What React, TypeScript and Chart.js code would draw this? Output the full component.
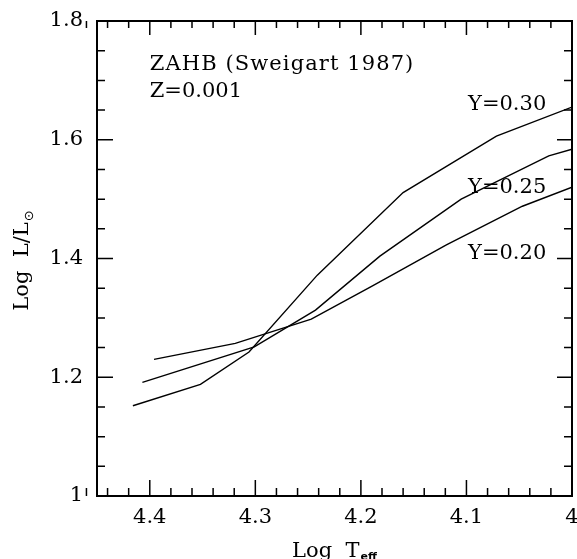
import React, { useEffect, useRef } from "react";
import { Chart, registerables } from "chart.js";

Chart.register(...registerables);

// ---- data (Log Teff, Log L/Lsun) ----
const Y030_T = [4.416, 4.352, 4.306, 4.2413, 4.160, 4.0716, 4.0];
const Y030_L = [1.152, 1.188, 1.2425, 1.372, 1.511, 1.606, 1.655];
const Y025_T = [4.407, 4.301, 4.243, 4.182, 4.105, 4.022, 4.0];
const Y025_L = [1.1915, 1.251, 1.313, 1.404, 1.5, 1.573, 1.584];
const Y020_T = [4.396, 4.319, 4.247, 4.189, 4.119, 4.047, 4.0];
const Y020_L = [1.23, 1.257, 1.298, 1.354, 1.423, 1.488, 1.52];

const CURVE_NAMES = ["Y=0.30", "Y=0.25", "Y=0.20"];
const LABEL_T = [4.0985, 4.0985, 4.0985];
const LABEL_L = [1.65, 1.5098, 1.399];

const NOTE_LINES = ["ZAHB (Sweigart 1987)", "Z=0.001"];
const NOTE_T = 4.4;
const NOTE_L = [1.7175, 1.672];

const X_MIN = 4.0;
const X_MAX = 4.45;
const X_STEP = 0.1;
const X_MINOR = 0.02;
const Y_MIN = 1.0;
const Y_MAX = 1.8;
const Y_STEP = 0.2;
const Y_MINOR = 0.05;

const SERIF = '"DejaVu Serif", serif';

function pts(t: number[], l: number[]) {
  return t.map((v, i) => ({ x: v, y: l[i] }));
}

const fmt = (v: number | string) => String(Math.round(Number(v) * 100) / 100);

const decorPlugin = {
  id: "decor",
  afterDraw(chart: any) {
    const { ctx, chartArea, scales } = chart;
    const { left, right, top, bottom } = chartArea;
    const xs = scales.x;
    const ys = scales.y;
    ctx.save();
    ctx.strokeStyle = "#000";
    ctx.fillStyle = "#000";

    // ticks (inward, all four sides)
    ctx.lineWidth = 1.5;
    ctx.beginPath();
    const nx = Math.round((X_MAX - X_MIN) / X_MINOR);
    for (let i = 0; i <= nx; i++) {
      const v = X_MIN + i * X_MINOR;
      const major = i % 5 === 0;
      const px = xs.getPixelForValue(v);
      const lb = major ? 16 : 8;
      const lt = major ? 14 : 7;
      ctx.moveTo(px, bottom);
      ctx.lineTo(px, bottom - lb);
      ctx.moveTo(px, top);
      ctx.lineTo(px, top + lt);
    }
    const ny = Math.round((Y_MAX - Y_MIN) / Y_MINOR);
    for (let i = 0; i <= ny; i++) {
      const v = Y_MIN + i * Y_MINOR;
      const major = i % 4 === 0;
      const py = ys.getPixelForValue(v);
      const ll = major ? 16 : 8;
      const lr = major ? 15 : 8;
      ctx.moveTo(left, py);
      ctx.lineTo(left + ll, py);
      ctx.moveTo(right, py);
      ctx.lineTo(right - lr, py);
    }
    ctx.stroke();

    // frame
    ctx.lineWidth = 2;
    ctx.strokeRect(left, top, right - left, bottom - top);

    // notes
    ctx.font = "21px " + SERIF;
    ctx.textBaseline = "alphabetic";
    ctx.textAlign = "left";
    NOTE_LINES.forEach((s, i) => {
      (ctx as any).letterSpacing = i === 0 ? "1.1px" : "0px";
      ctx.fillText(s, xs.getPixelForValue(NOTE_T), ys.getPixelForValue(NOTE_L[i]));
    });
    (ctx as any).letterSpacing = "0px";
    CURVE_NAMES.forEach((s, i) => {
      ctx.fillText(s, xs.getPixelForValue(LABEL_T[i]), ys.getPixelForValue(LABEL_L[i]));
    });

    // x title: Log T_eff
    const cx = (left + right) / 2;
    ctx.font = "21px " + SERIF;
    const wLog = ctx.measureText("Log").width;
    const wT = ctx.measureText("T").width;
    const gap = 13.5;
    const subFont = "bold 11px \"DejaVu Sans\", sans-serif";
    ctx.font = subFont;
    const wEff = ctx.measureText("eff").width;
    const total = wLog + gap + wT + 1 + wEff;
    const x0 = cx - total / 2;
    const base = 557;
    ctx.font = "21px " + SERIF;
    ctx.fillText("Log", x0, base);
    ctx.fillText("T", x0 + wLog + gap, base);
    ctx.font = subFont;
    ctx.fillText("eff", x0 + wLog + gap + wT + 1, base + 3);

    // y title: Log L/L_sun (rotated)
    const cy = (top + bottom) / 2 + 2;
    ctx.save();
    ctx.translate(28, cy);
    ctx.rotate(-Math.PI / 2);
    ctx.font = "21px " + SERIF;
    const wL = ctx.measureText("L/L").width;
    const sunFont = "13px \"DejaVu Sans\", sans-serif";
    ctx.font = sunFont;
    const wSun = ctx.measureText("\u2299").width;
    const tot2 = wLog + gap + wL + 1 + wSun;
    const s0 = -tot2 / 2;
    ctx.font = "21px " + SERIF;
    ctx.fillText("Log", s0, 0);
    ctx.fillText("L/L", s0 + wLog + gap, 0);
    ctx.font = sunFont;
    ctx.fillText("\u2299", s0 + wLog + gap + wL + 1, 5);
    ctx.restore();

    ctx.restore();
  },
};

export default function App() {
  const ref = useRef<HTMLCanvasElement | null>(null);

  useEffect(() => {
    document.body.style.margin = "0";
    const canvas = ref.current;
    if (!canvas) return;
    const line = (data: { x: number; y: number }[]) => ({
      data,
      showLine: true,
      borderColor: "#000",
      backgroundColor: "#000",
      borderWidth: 1.4,
      pointRadius: 0,
      tension: 0,
      fill: false,
    });
    const chart = new Chart(canvas, {
      type: "scatter",
      data: {
        datasets: [
          line(pts(Y030_T, Y030_L)),
          line(pts(Y025_T, Y025_L)),
          line(pts(Y020_T, Y020_L)),
        ],
      },
      options: {
        animation: false,
        responsive: false,
        devicePixelRatio: 1,
        layout: { padding: { top: 21, right: 5, left: 0, bottom: 0 } },
        plugins: { legend: { display: false }, tooltip: { enabled: false } },
        scales: {
          x: {
            type: "linear",
            reverse: true,
            min: X_MIN,
            max: X_MAX,
            grid: { display: false, drawTicks: false },
            border: { display: false },
            ticks: {
              stepSize: X_STEP,
              includeBounds: false,
              autoSkip: false,
              maxRotation: 0,
              color: "#000",
              padding: 9,
              font: { family: SERIF, size: 21 },
              callback: (v: any) => fmt(v),
            },
            afterFit: (s: any) => {
              s.height = 63;
              s.paddingLeft = 0;
              s.paddingRight = 0;
              s.paddingTop = 0;
              s.paddingBottom = 0;
            },
          },
          y: {
            type: "linear",
            min: Y_MIN,
            max: Y_MAX,
            grid: { display: false, drawTicks: false },
            border: { display: false },
            ticks: {
              stepSize: Y_STEP,
              includeBounds: false,
              autoSkip: false,
              color: "#000",
              padding: 14,
              font: { family: SERIF, size: 21 },
              callback: (v: any) => fmt(v),
            },
            afterFit: (s: any) => {
              s.width = 97;
              s.paddingLeft = 0;
              s.paddingRight = 0;
              s.paddingTop = 0;
              s.paddingBottom = 0;
            },
          },
        },
      },
      plugins: [decorPlugin],
    });
    return () => chart.destroy();
  }, []);

  return (
    <div style={{ position: "absolute", left: 0, top: 0, width: 577, height: 559, background: "#fff" }}>
      <canvas ref={ref} width={577} height={559} style={{ width: 577, height: 559, display: "block" }} />
    </div>
  );
}
